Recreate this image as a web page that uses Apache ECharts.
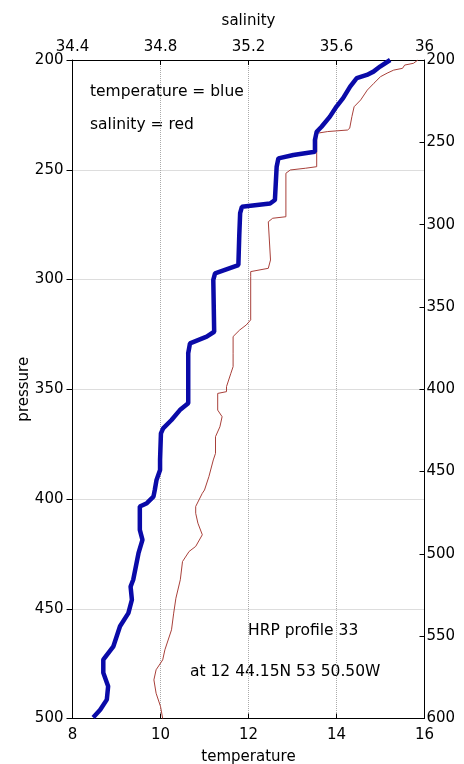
<!DOCTYPE html>
<html>
<head>
<meta charset="utf-8">
<script src="https://cdn.jsdelivr.net/npm/echarts@6/dist/echarts.min.js"></script>
<style>
  html, body { margin: 0; padding: 0; background: #fff; }
  #main { width: 464px; height: 764px; }
</style>
</head>
<body>
<div id="main"></div>
<script>
  // temperature profile (blue)
  const tempValues = [15.22, 14.99, 14.84, 14.69, 14.46, 14.31, 14.15, 14.00, 13.85, 13.66, 13.55, 13.51, 13.51, 13.02, 12.68, 12.64, 12.60, 12.49, 11.85, 11.81, 11.79, 11.77, 11.24, 11.20, 11.22, 11.05, 10.67, 10.63, 10.63, 10.44, 10.25, 10.06, 10.01, 9.99, 9.99, 9.91, 9.87, 9.84, 9.69, 9.53, 9.53, 9.59, 9.50, 9.38, 9.32, 9.35, 9.27, 9.08, 8.93, 8.70, 8.70, 8.81, 8.78, 8.63, 8.47]
  const tempPressure = [200, 203, 205.3, 206.8, 208.3, 212.1, 217.4, 221.2, 225.8, 230.4, 232.7, 236.4, 241.8, 243.3, 244.8, 248.6, 263.8, 265.4, 266.9, 269.8, 280, 293.4, 297.2, 300.2, 323.8, 326.0, 329.1, 333.6, 356.4, 359.5, 364.0, 367.8, 370.1, 382.2, 386.8, 391.3, 395.9, 398.9, 401.9, 403.4, 414.1, 418.6, 424.7, 436.8, 439.9, 445.9, 452.0, 458.0, 467.1, 473.2, 479.2, 485.3, 491.4, 496.0, 499.5]

  // salinity profile (red)
  const salValues = [35.97, 35.95, 35.91, 35.90, 35.86, 35.83, 35.80, 35.77, 35.74, 35.71, 35.68, 35.67, 35.66, 35.65, 35.56, 35.51, 35.51, 35.46, 35.39, 35.37, 35.37, 35.31, 35.29, 35.30, 35.29, 35.21, 35.21, 35.21, 35.19, 35.16, 35.13, 35.13, 35.13, 35.12, 35.10, 35.10, 35.06, 35.06, 35.08, 35.07, 35.05, 35.05, 35.04, 35.02, 35.00, 34.99, 34.96, 34.96, 34.97, 34.99, 34.96, 34.93, 34.90, 34.89, 34.87, 34.86, 34.85, 34.82, 34.81, 34.78, 34.77, 34.78, 34.80, 34.81]
  const salPressure = [200, 201.5, 202.3, 203.8, 204.6, 206, 207.6, 210.6, 213.7, 218.2, 221.3, 225.8, 231.1, 231.9, 232.6, 233.4, 248.6, 249.3, 250.1, 251.6, 271.4, 272.1, 273.7, 291.1, 294.9, 296.4, 298.7, 318.4, 320.7, 323.0, 326.0, 333.6, 339.7, 342.7, 348.8, 351.1, 351.9, 359.5, 362.5, 367.1, 371.6, 379.2, 382.2, 389.8, 395.9, 397.4, 403.4, 406.5, 411.0, 416.3, 421.6, 423.9, 428.5, 436.8, 445.2, 452.0, 459.6, 468.7, 473.3, 477.8, 482.4, 488.5, 494.5, 500]

  const notes = ['temperature = blue', 'salinity = red', 'HRP profile 33', 'at 12 44.15N 53 50.50W']

  const FONT = 'DejaVu Sans'
  const labelStyle = { color: '#000', fontSize: 15, fontFamily: FONT }
  const noteFont = '15.5px "' + FONT + '"'

  function pairs (xs, ys) {
    return xs.map((v, i) => [v, ys[i]])
  }

  const chart = echarts.init(document.getElementById('main'))
  chart.setOption({
    animation: false,
    backgroundColor: '#fff',
    grid: { left: 72.5, right: 39.5, top: 60, bottom: 45.5, containLabel: false, outerBoundsMode: 'none' },
    xAxis: [{
      type: 'value',
      position: 'bottom',
      min: 8,
      max: 16,
      interval: 2,
      name: 'temperature',
      nameLocation: 'middle',
      nameGap: 31,
      nameTextStyle: labelStyle,
      axisLine: { show: true, onZero: false, lineStyle: { color: '#000', width: 1 } },
      axisTick: { inside: true, length: 5, lineStyle: { color: '#000' } },
      axisLabel: Object.assign({ margin: 9 }, labelStyle),
      splitLine: { show: true, lineStyle: { color: '#aaa', type: 'dotted' } }
    }, {
      type: 'value',
      position: 'top',
      min: 34.4,
      max: 36,
      interval: 0.4,
      name: 'salinity',
      nameLocation: 'middle',
      nameGap: 31,
      nameTextStyle: labelStyle,
      axisLine: { show: true, onZero: false, lineStyle: { color: '#000', width: 1 } },
      axisTick: { inside: true, length: 5, lineStyle: { color: '#000' } },
      axisLabel: Object.assign({ margin: 5, formatter: (v) => String(Math.round(v * 10) / 10) }, labelStyle),
      splitLine: { show: false }
    }],
    yAxis: [{
      type: 'value',
      position: 'left',
      inverse: true,
      min: 200,
      max: 500,
      interval: 50,
      name: 'pressure',
      nameLocation: 'middle',
      nameGap: 41,
      nameMoveOverlap: false,
      nameRotate: 90,
      nameTextStyle: labelStyle,
      axisLine: { show: true, onZero: false, lineStyle: { color: '#000', width: 1 } },
      axisTick: { inside: false, length: 6, lineStyle: { color: '#000' } },
      axisLabel: Object.assign({ margin: 9 }, labelStyle),
      splitLine: { show: true, lineStyle: { color: '#bbb', type: 'dotted' } }
    }, {
      type: 'value',
      position: 'right',
      inverse: true,
      min: 200,
      max: 600,
      interval: 50,
      axisLine: { show: true, onZero: false, lineStyle: { color: '#000', width: 1 } },
      axisTick: { inside: true, length: 5, lineStyle: { color: '#000' } },
      axisLabel: Object.assign({ margin: 2 }, labelStyle),
      splitLine: { show: false }
    }],
    graphic: [
      { type: 'text', left: 90, top: 84, style: { text: notes[0], fill: '#000', font: noteFont } },
      { type: 'text', left: 90, top: 117, style: { text: notes[1], fill: '#000', font: noteFont } },
      { type: 'text', left: 248, top: 623, style: { text: notes[2], fill: '#000', font: noteFont } },
      { type: 'text', left: 190, top: 664, style: { text: notes[3], fill: '#000', font: noteFont } }
    ],
    series: [{
      name: 'salinity',
      type: 'line',
      xAxisIndex: 1,
      yAxisIndex: 0,
      showSymbol: false,
      lineStyle: { color: '#a8403a', width: 1 },
      data: pairs(salValues, salPressure)
    }, {
      name: 'temperature',
      type: 'line',
      xAxisIndex: 0,
      yAxisIndex: 0,
      showSymbol: false,
      lineStyle: { color: '#0a0aa8', width: 4.5 },
      data: pairs(tempValues, tempPressure)
    }]
  })
</script>
</body>
</html>
